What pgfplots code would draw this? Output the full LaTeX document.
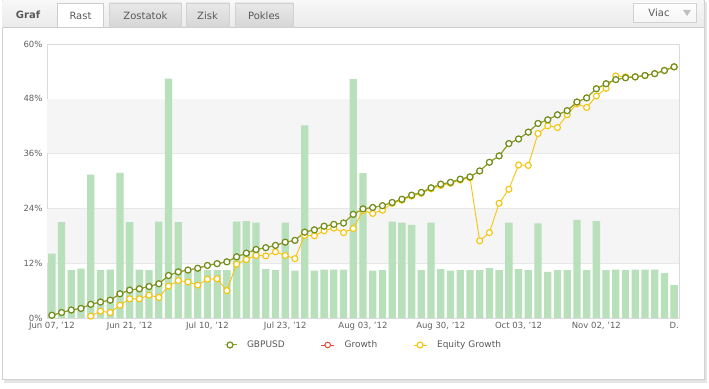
\documentclass[border=0pt]{standalone}
\usepackage{pgfplots}
\pgfplotsset{compat=1.18}
\usepackage{pgfplotstable}
\usepackage{fontspec}
\setmainfont{DejaVu Sans}
\definecolor{barg}{RGB}{183,224,187}
\definecolor{gcol}{RGB}{130,170,30}
\definecolor{rcol}{RGB}{232,72,59}
\definecolor{ycol}{RGB}{245,196,10}
\definecolor{band}{RGB}{245,245,245}
\definecolor{txt}{RGB}{90,90,90}

\pgfplotstableread{
i b g e
0 14.1 0.6 nan
1 21.0 1.2 nan
2 10.5 1.75 nan
3 10.8 2.1 nan
4 31.4 3.0 0.4
5 10.5 3.5 1.5
6 10.6 3.9 1.2
7 31.8 5.3 2.8
8 21.0 6.1 4.2
9 10.6 6.4 4.2
10 10.5 6.9 5.0
11 21.1 7.5 4.5
12 52.4 9.3 7.0
13 21.0 10.1 8.2
14 10.5 10.5 7.9
15 10.5 10.9 7.2
16 10.5 11.5 8.5
17 10.5 11.9 8.6
18 10.5 12.3 6.0
19 21.1 13.4 11.8
20 21.2 14.2 12.8
21 20.9 15.0 13.7
22 10.7 15.4 13.6
23 10.5 15.9 14.5
24 20.9 16.6 13.7
25 10.4 17.0 13.0
26 42.2 18.8 18.1
27 10.4 19.3 18.0
28 10.6 20.1 19.1
29 10.6 20.5 19.7
30 10.6 20.8 18.7
31 52.3 22.7 19.6
32 31.7 23.9 23.5
33 10.4 24.2 22.9
34 10.5 24.6 23.6
35 21.1 25.3 25.1
36 20.9 26.0 25.8
37 20.4 26.9 26.7
38 10.5 27.5 27.3
39 20.9 28.5 28.3
40 10.7 29.3 29.0
41 10.4 29.7 29.5
42 10.5 30.4 30.2
43 10.5 30.9 30.7
44 10.5 32.2 16.9
45 10.9 34.1 18.7
46 10.5 35.5 25.1
47 20.9 38.2 28.2
48 10.7 39.2 33.5
49 10.5 40.7 33.4
50 20.7 42.6 40.4
51 10.1 43.4 42.1
52 10.5 44.5 41.7
53 10.5 45.4 44.5
54 21.5 47.3 46.9
55 10.5 48.2 46.1
56 21.2 50.2 48.6
57 10.5 51.3 50.3
58 10.6 52.2 53.0
59 10.5 52.6 52.8
60 10.6 52.8 52.8
61 10.6 53.1 53.1
62 10.6 53.5 53.5
63 9.8 54.2 54.2
64 7.2 55.0 55.0
}\data

\begin{document}
\begin{tikzpicture}[x=1pt,y=1pt]
\fill[white] (0,0) rectangle (709,388);
% panel with shadow
\fill[black!10] (4,5) rectangle (707,386);
\fill[white] (2,9) rectangle (704,388);
\draw[black!18] (2,9) rectangle (704,388);
% header
\shade[top color=black!3, bottom color=black!8] (2.5,360.5) rectangle (703.5,387.5);
\draw[black!20] (2.5,360.5) -- (703.5,360.5);
\node[font=\bfseries\fontsize{10}{12}\selectfont, text=txt] at (28,373) {Graf};
% tabs
\shade[top color=black!9, bottom color=black!16] (109.5,361) rectangle (181,385);
\draw[black!18] (109.5,361) rectangle (181,385);
\shade[top color=black!9, bottom color=black!16] (186,361) rectangle (229,385);
\draw[black!18] (186,361) rectangle (229,385);
\shade[top color=black!9, bottom color=black!16] (235,361) rectangle (293,385);
\draw[black!18] (235,361) rectangle (293,385);
\fill[white] (57.5,360.5) rectangle (103,385);
\draw[black!20] (57.5,360.5) -- (57.5,385) -- (103,385) -- (103,360.5);
\node[font=\fontsize{10}{12}\selectfont, text=txt] at (80.5,372.5) {Rast};
\node[font=\fontsize{10}{12}\selectfont, text=txt] at (145.5,372.5) {Zostatok};
\node[font=\fontsize{10}{12}\selectfont, text=txt] at (207.5,372.5) {Zisk};
\node[font=\fontsize{10}{12}\selectfont, text=txt] at (264,372.5) {Pokles};
% Viac dropdown
\shade[top color=white, bottom color=black!4] (633,366) rectangle (696,385);
\draw[black!18] (633,366) rectangle (696,385);
\node[font=\fontsize{10}{12}\selectfont, text=txt] at (659,375.5) {Viac};
\fill[black!25] (683,378) -- (691,378) -- (687,372) -- cycle;

\begin{axis}[
  at={(47pt,70pt)}, anchor=south west,
  scale only axis, width=632pt, height=274pt,
  xmin=-0.5, xmax=64.5, ymin=0, ymax=60,
  axis line style={draw=black!14},
  ytick={0,12,24,36,48,60},
  yticklabels={0\%,12\%,24\%,36\%,48\%,60\%},
  xtick={0,8,16,24,32,40,48,56,64},
  xticklabels={{Jun 07, '12},{Jun 21, '12},{Jul 10, '12},{Jul 23, '12},{Aug 03, '12},{Aug 30, '12},{Oct 03, '12},{Nov 02, '12},{D.}},
  major tick length=0pt,
  ymajorgrids, major grid style={draw=black!9},
  /pgf/number format/assume math mode=true,
  tick label style={font=\fontsize{8.5}{10}\selectfont, text=black!62},
  yticklabel style={xshift=-1pt},
  xticklabel style={yshift=-1pt},
  unbounded coords=jump,
  reverse legend,
  legend columns=3,
  legend style={draw=none, fill=none, at={(0.5,-0.0985)}, anchor=center,
    font=\fontsize{9}{11}\selectfont, text=black!65,
    /tikz/every even column/.append style={column sep=34pt},
    /tikz/every odd column/.append style={column sep=8pt}},
  legend image code/.code={\draw[#1,mark repeat=2,mark phase=2] plot coordinates {(0pt,0pt) (6.5pt,0pt) (13pt,0pt)};},
]
\fill[band] (axis cs:-0.5,12.06) rectangle (axis cs:64.5,23.94);
\fill[band] (axis cs:-0.5,36.06) rectangle (axis cs:64.5,47.94);
\addplot[ybar, bar width=7.3pt, fill=barg, draw=none, forget plot] table[x=i,y=b]{\data};
\addplot[ycol, line width=0.9pt, mark=*, mark size=3pt, mark options={fill=white, draw=ycol, line width=1.1pt}] table[x=i,y=e]{\data};
\addlegendentry{Equity Growth}
\addplot[rcol, line width=0.8pt, mark=*, mark size=2.8pt, mark options={fill=white, draw=rcol, line width=1pt}] table[x=i,y=g]{\data};
\addlegendentry{Growth}
\addplot[gcol, line width=1pt, mark=*, mark size=3pt, mark options={fill=white, draw=gcol!85!black, line width=1.2pt}] table[x=i,y=g]{\data};
\addlegendentry{GBPUSD}
\end{axis}
\pgfresetboundingbox
\path (0,0) rectangle (709,388);
\end{tikzpicture}
\end{document}
